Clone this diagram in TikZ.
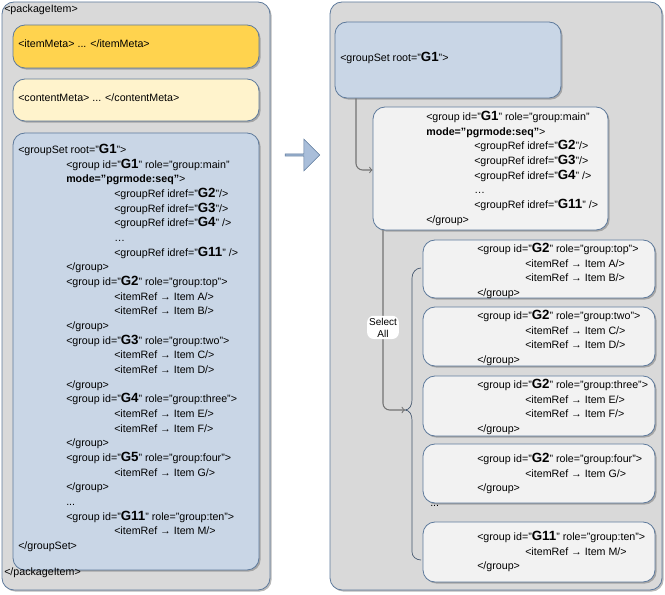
\documentclass[tikz,border=0pt]{standalone}
\usepackage{fontspec}
\setmainfont{Liberation Sans}[Ligatures={NoCommon}]
\usetikzlibrary{arrows,positioning,fit,shadows,shapes.arrows}
\definecolor{edgeBlue}{HTML}{5E7A9C}
\definecolor{setFill}{HTML}{C9D6E6}
\definecolor{metaGold}{HTML}{FFD34E}
\definecolor{metaCream}{HTML}{FFF3CC}
\definecolor{outerGray}{HTML}{D9D9D9}
\definecolor{grpFill}{HTML}{F2F2F2}
\definecolor{stepFill}{HTML}{A9BEDA}
\tikzstyle{boxNode} = [rounded corners=9pt, draw=edgeBlue, line width=0.6pt, inner sep=0pt, drop shadow={shadow xshift=1.2pt, shadow yshift=-1.2pt, fill=black!55}]
\tikzstyle{outerBox} = [boxNode, fill=outerGray]
\tikzstyle{metaBoxA} = [boxNode, fill=metaGold]
\tikzstyle{metaBoxB} = [boxNode, fill=metaCream]
\tikzstyle{setBox} = [boxNode, fill=setFill]
\tikzstyle{grpBox} = [boxNode, fill=grpFill]
\tikzstyle{txt} = [anchor=north west, align=left, inner sep=0pt, font=\fontsize{8}{11}\selectfont]
\tikzstyle{link} = [draw=black!55, line width=0.8pt, rounded corners=5pt, ->, >=to]
\newcommand{\q}{\symbol{34}}
\newcommand{\gid}[1]{\q{\fontsize{10}{11}\selectfont\bfseries #1}\q}
\newcommand{\tb}{\hspace*{36pt}}
\begin{document}
\begin{tikzpicture}[x=0.75pt,y=-0.75pt]
\useasboundingbox (0,0) rectangle (665,595);
% left side
\node (pkg) [outerBox, fit={(2,2) (270,590)}] {};
\node (meta) [metaBoxA, fit={(13,25) (259,68)}] {};
\node (cmeta) [metaBoxB, fit={(13,79) (259,121)}] {};
\node (gset) [setBox, fit={(13,133) (259,570)}] {};
\node [txt] at (4,5) {<packageItem>};
\node [txt] at (18,40) {<itemMeta> ... </itemMeta>};
\node [txt] at (18,94) {<contentMeta> ... </contentMeta>};
\node [txt] at (18,144) {<groupSet root=\gid{G1}>\\
\tb<group id=\gid{G1} role=\q group:main\q\\
\tb\textbf{mode=\q pgrmode:seq\q}>\\
\tb\tb<groupRef idref=\gid{G2}/>\\
\tb\tb<groupRef idref=\gid{G3}/>\\
\tb\tb<groupRef idref=\gid{G4} />\\
\tb\tb…\\
\tb\tb<groupRef idref=\gid{G11} />\\
\tb</group>\\
\tb<group id=\gid{G2} role=\q group:top\q>\\
\tb\tb<itemRef → Item A/>\\
\tb\tb<itemRef → Item B/>\\
\tb</group>\\
\tb<group id=\gid{G3} role=\q group:two\q>\\
\tb\tb<itemRef → Item C/>\\
\tb\tb<itemRef → Item D/>\\
\tb</group>\\
\tb<group id=\gid{G4} role=\q group:three\q>\\
\tb\tb<itemRef → Item E/>\\
\tb\tb<itemRef → Item F/>\\
\tb</group>\\
\tb<group id=\gid{G5} role=\q group:four\q>\\
\tb\tb<itemRef → Item G/>\\
\tb</group>\\
\tb...\\
\tb<group id=\gid{G11} role=\q group:ten\q>\\
\tb\tb<itemRef → Item M/>\\
</groupSet>};
\node [txt] at (4,568) {</packageItem>};
% middle arrow
\node (step) [single arrow, draw=edgeBlue, fill=stepFill, minimum height=26pt, minimum width=24pt, single arrow head extend=3pt, inner sep=0pt] at (302,155) {};
% right side
\node (res) [outerBox, fit={(330,2) (662,590)}] {};
\node (root) [setBox, fit={(335,22) (561,98)}] {};
\node [txt] at (340,52) {<groupSet root=\gid{G1}>};
\node (main) [grpBox, fit={(373,107) (608,230)}] {};
\node [txt] at (426,111) {<group id=\gid{G1} role=\q group:main\q\\
\textbf{mode=\q pgrmode:seq\q}>\\
\tb<groupRef idref=\gid{G2}/>\\
\tb<groupRef idref=\gid{G3}/>\\
\tb<groupRef idref=\gid{G4} />\\
\tb…\\
\tb<groupRef idref=\gid{G11} />\\
</group>};
\node (gtop) [grpBox, fit={(423,240) (655,298)}] {};
\node [txt] at (477,243) {<group id=\gid{G2} role=\q group:top\q>\\
\tb<itemRef → Item A/>\\
\tb<itemRef → Item B/>\\
</group>};
\node (gtwo) [grpBox, fit={(423,307) (655,366)}] {};
\node [txt] at (477,310) {<group id=\gid{G2} role=\q group:two\q>\\
\tb<itemRef → Item C/>\\
\tb<itemRef → Item D/>\\
</group>};
\node (gthree) [grpBox, fit={(423,376) (655,436)}] {};
\node [txt] at (477,379) {<group id=\gid{G2} role=\q group:three\q>\\
\tb<itemRef → Item E/>\\
\tb<itemRef → Item F/>\\
</group>};
\node (gfour) [grpBox, fit={(423,444) (655,503)}] {};
\node [txt] at (477,453) {<group id=\gid{G2} role=\q group:four\q>\\
\tb<itemRef → Item G/>\\
</group>};
\node [txt] at (430,505) {...};
\node (gten) [grpBox, fit={(423,522) (655,582)}] {};
\node [txt] at (477,531) {<group id=\gid{G11} role=\q group:ten\q>\\
\tb<itemRef → Item M/>\\
</group>};
% brace
\coordinate (tip) at (405,410);
\draw [draw=edgeBlue!70!black, line width=0.5pt] (421,268) to[out=180,in=90] (412,278) -- (412,400) to[out=-90,in=0] (tip) to[out=0,in=90] (412,420) -- (412,552) to[out=-90,in=180] (421,560);
% connectors
\draw [link] (root.south -| 356,0) |- (main.west |- 0,170);
\draw [link] (main.south -| 383,0) |- node[pos=0.27, fill=white, inner sep=1.5pt, align=center, font=\fontsize{7.5}{9}\selectfont] {Select\\All} (tip);
\end{tikzpicture}
\end{document}
